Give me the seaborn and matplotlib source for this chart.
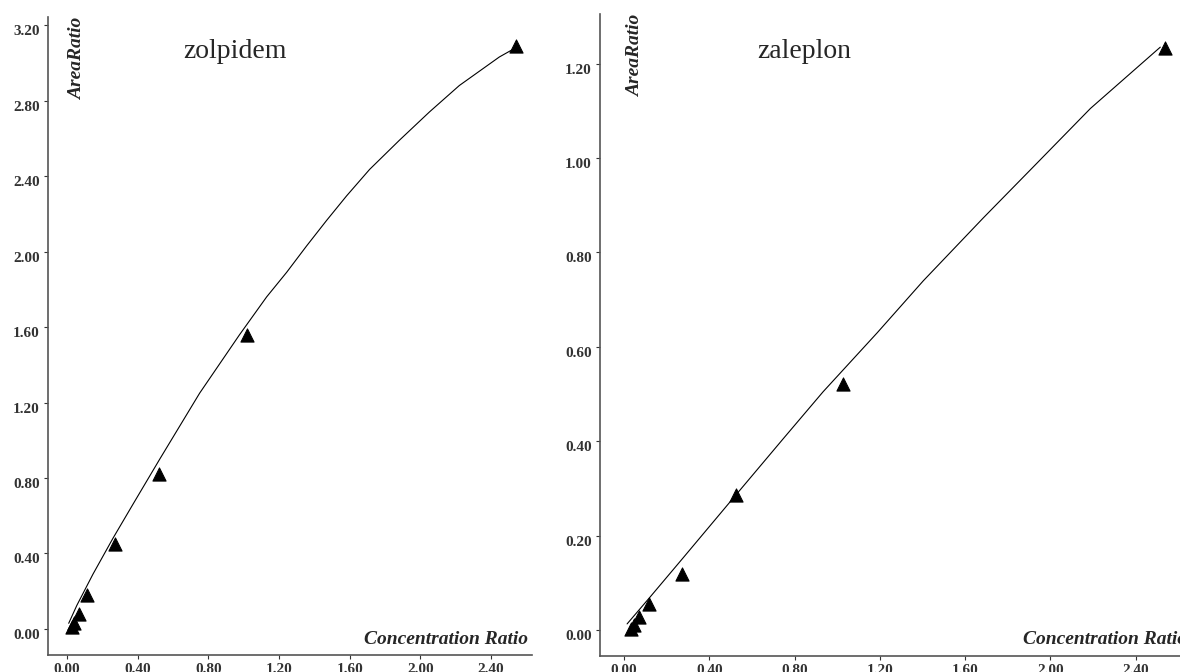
import matplotlib
matplotlib.use("Agg")
import matplotlib.pyplot as plt
import pandas as pd
import seaborn as sns

# calibration points (concentration ratio vs area ratio)
zol_conc = [0.03, 0.04, 0.068, 0.115, 0.27, 0.52, 1.02, 2.54]
zol_area = [0.01, 0.03, 0.08, 0.18, 0.45, 0.82, 1.56, 3.09]
# drawn calibration curve, sampled along the line
zol_fit_x = [0.01, 0.056, 0.147, 0.26, 0.373, 0.525, 0.751, 0.977, 1.13, 1.243,
             1.356, 1.469, 1.582, 1.712, 1.881, 2.051, 2.22, 2.446, 2.52]
zol_fit_y = [0.03, 0.125, 0.29, 0.48, 0.66, 0.90, 1.25, 1.56, 1.76, 1.89,
             2.03, 2.165, 2.295, 2.435, 2.59, 2.74, 2.88, 3.031, 3.07]

zal_conc = [0.033, 0.047, 0.07, 0.117, 0.272, 0.526, 1.028, 2.54]
zal_area = [0.002, 0.011, 0.028, 0.055, 0.119, 0.286, 0.521, 1.233]
zal_fit_x = [0.014, 0.122, 0.277, 0.498, 0.746, 0.934, 1.188, 1.404, 1.685,
             1.939, 2.188, 2.516]
zal_fit_y = [0.013, 0.07, 0.153, 0.272, 0.405, 0.505, 0.63, 0.74, 0.873,
             0.99, 1.105, 1.235]

xticks = [0.0, 0.4, 0.8, 1.2, 1.6, 2.0, 2.4]
zol_yticks = [0.0, 0.4, 0.8, 1.2, 1.6, 2.0, 2.4, 2.8, 3.2]
zal_yticks = [0.0, 0.2, 0.4, 0.6, 0.8, 1.0, 1.2]

sns.set_theme(style="ticks")
plt.rcParams['font.family'] = ['Liberation Serif', 'DejaVu Serif']

fig = plt.figure(figsize=(11.8, 6.72), dpi=100)
ax1 = fig.add_axes([0.0407, 0.0253, 0.410, 0.9494])
ax2 = fig.add_axes([0.5085, 0.0238, 0.5008, 0.9552])

panels = [
    (ax1, "zolpidem", zol_conc, zol_area, zol_fit_x, zol_fit_y, zol_yticks,
     (-0.107, 2.63), (-0.138, 3.243)),
    (ax2, "zaleplon", zal_conc, zal_area, zal_fit_x, zal_fit_y, zal_yticks,
     (-0.113, 2.66), (-0.055, 1.305)),
]

for ax, name, cx, cy, fx, fy, yt, xl, yl in panels:
    pts = pd.DataFrame({"conc": cx, "area": cy})
    fit = pd.DataFrame({"conc": fx, "area": fy})
    sns.lineplot(data=fit, x="conc", y="area", ax=ax, color="black",
                 linewidth=0.8, zorder=2)
    sns.scatterplot(data=pts, x="conc", y="area", ax=ax, marker="^",
                    color="black", edgecolor="black", s=90, zorder=3)

    ax.set_xlim(*xl)
    ax.set_ylim(*yl)
    ax.set_xticks(xticks)
    ax.set_yticks(yt)
    ax.set_xticklabels([f"{v:.2f}" for v in xticks])
    ax.set_yticklabels([f"{v:.2f}" for v in yt])
    ax.set_xlabel("")
    ax.set_ylabel("")
    for lab in ax.get_xticklabels() + ax.get_yticklabels():
        lab.set_fontweight("bold")
        lab.set_fontsize(11)
    for lab in ax.get_yticklabels():
        lab.set_va("top")
    ax.tick_params(length=3, width=0.8, pad=3, colors="#333333")
    sns.despine(ax=ax)
    for sp in ("left", "bottom"):
        ax.spines[sp].set_color("#555555")
        ax.spines[sp].set_linewidth(1.2)

    ax.text(0.993, 0.025, "Concentration Ratio", transform=ax.transAxes,
            ha="right", va="center", fontsize=14, fontweight="bold",
            fontstyle="italic")
    ax.text(0.06, 0.935, "AreaRatio", transform=ax.transAxes, rotation=90,
            ha="center", va="center", fontsize=14, fontweight="bold",
            fontstyle="italic")

fig.text(235 / 1180, 1 - 52 / 672, "zolpidem", ha="center", va="center",
         fontsize=20)
fig.text(804 / 1180, 1 - 52 / 672, "zaleplon", ha="center", va="center",
         fontsize=20)

fig.savefig("out.png", dpi=100)
